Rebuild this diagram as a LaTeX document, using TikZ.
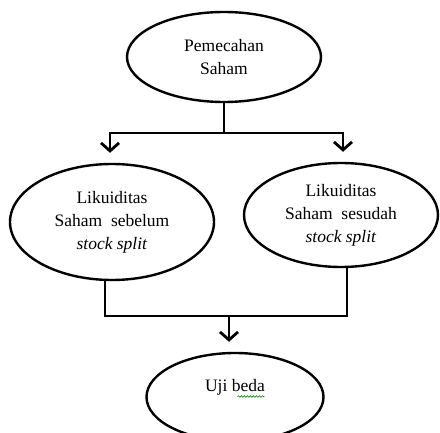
\documentclass[tikz,border=0pt]{standalone}
\usepackage{fontspec}
\setmainfont{Liberation Serif}
\usepackage{tikz}
\usetikzlibrary{arrows.meta,shapes}
\usetikzlibrary{positioning}
\usetikzlibrary{decorations.pathmorphing}
\tikzset{
    stage/.style={draw=black, ellipse, line width=2.4pt, inner sep=0pt,
        align=center, font=\fontsize{17.5}{23}\selectfont},
    flow/.style={draw=black, line width=2.8pt,
        -{Straight Barb[length=8pt,width=18pt,line width=2.8pt]}, shorten >=10pt},
    flownoarrow/.style={draw=black, line width=2.8pt},
    spellmark/.style={decorate, draw=green!60!black, line width=0.6pt,
        decoration={snake,amplitude=0.8pt,segment length=3pt}},
}
\begin{document}
\begin{tikzpicture}[x=1pt, y=1pt]
	\useasboundingbox (0,0) rectangle (440,432);
	\node[stage, minimum width=194pt, minimum height=90pt] (split) at (224,375) {Pemecahan\\Saham};
	\node[stage, minimum width=204pt, minimum height=116pt] (before) at (112,210) {Likuiditas\\Saham\ \ sebelum\\\textit{stock split}};
	\node[stage, minimum width=194pt, minimum height=104pt] (after) at (341,217) {Likuiditas\\Saham\ \ sesudah\\\textit{stock split}};
	\node[stage, minimum width=177pt, minimum height=88pt] (test) at (235,35) {};
	\node[font=\fontsize{17.5}{23}\selectfont] (testtext) at (235,45) {Uji beda};
	\coordinate (fork) at (224,299);
	\coordinate (merge) at (229,116);
	\draw[flownoarrow] (split.south) -- (fork);
	\draw[flow] (fork) -| ([xshift=-2pt]before.north);
	\draw[flow] (fork) -| ([xshift=2pt]after.north);
	\draw[flownoarrow] ([xshift=-7pt]before.south) |- (merge);
	\draw[flownoarrow] ([xshift=6pt]after.south) |- (merge);
	\draw[flow] (merge) -- (merge |- test.north);
	% wavy mark under beda
	\draw[spellmark] ([xshift=-31pt,yshift=2pt]testtext.south east) -- ([xshift=-4pt,yshift=2pt]testtext.south east);
\end{tikzpicture}
\end{document}
